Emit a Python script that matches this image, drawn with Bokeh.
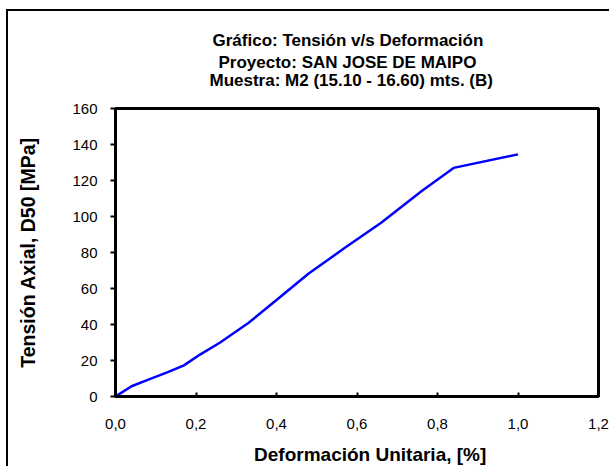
import math
from bokeh.plotting import figure
from bokeh.models import Range1d, FixedTicker, Title
from bokeh.embed import file_html
from bokeh.resources import INLINE

# Stress-strain curve (axial stress vs unit strain)
strain = [0.0, 0.04, 0.08, 0.13, 0.17, 0.21, 0.26, 0.33, 0.40, 0.48, 0.57, 0.66, 0.76, 0.84, 1.0]
stress = [0.0, 5.7, 9.2, 13.5, 17.3, 23.3, 30.0, 40.8, 53.6, 68.3, 82.6, 96.5, 114.0, 127.0, 134.5]

x_ticks = [0.0, 0.2, 0.4, 0.6, 0.8, 1.0, 1.2]
x_tick_labels = ["0,0", "0,2", "0,4", "0,6", "0,8", "1,0", "1,2"]
y_ticks = [0, 20, 40, 60, 80, 100, 120, 140, 160]

title_lines = [
    "Gráfico: Tensión  v/s Deformación",
    "Proyecto: SAN JOSE DE MAIPO",
    "Muestra: M2 (15.10 - 16.60) mts. (B)",
]
x_label = "Deformación Unitaria, [%]"
y_label = "Tensión Axial, D50 [MPa]"

FONT = "Liberation Sans"
NBSP = "\u00a0"

p = figure(
    width=603, height=457,
    x_range=Range1d(0, 1.2), y_range=Range1d(0, 160),
    output_backend="svg", toolbar_location=None,
    min_border_left=107, min_border_right=13,
    min_border_top=97, min_border_bottom=72,
)
p.title = None
p.styles = {
    "margin-left": "6px",
    "margin-top": "9px",
    "border-left": "2px solid black",
    "border-top": "2px solid black",
}

p.background_fill_color = "white"
p.border_fill_color = "white"
p.outline_line_color = "black"
p.outline_line_width = 3
p.grid.visible = False

p.line(strain, stress, line_color="#0000FF", line_width=2.5)

xa = p.xaxis[0]
xa.ticker = FixedTicker(ticks=x_ticks)
xa.major_label_overrides = dict(zip(x_ticks, x_tick_labels))
xa.major_tick_in = 4
xa.major_tick_out = 0
xa.major_label_standoff = 22
# leading padding nudges the caption a little right of the frame centre
xa.axis_label = NBSP * 5 + x_label
xa.axis_label_standoff = 12
xa.axis_label_text_font_size = "19px"

ya = p.yaxis[0]
ya.ticker = FixedTicker(ticks=y_ticks)
ya.major_tick_in = 0
ya.major_tick_out = 5
ya.major_label_standoff = 13
ya.axis_label = y_label
ya.axis_label_standoff = 30
ya.axis_label_text_font_size = "19.5px"

for ax in (xa, ya):
    ax.axis_line_color = "black"
    ax.axis_line_width = 3
    ax.major_tick_line_color = "black"
    ax.major_tick_line_width = 2
    ax.minor_tick_line_color = None
    ax.major_label_text_font = FONT
    ax.major_label_text_font_size = "15px"
    ax.major_label_text_color = "black"
    ax.axis_label_text_font = FONT
    ax.axis_label_text_font_style = "bold"
    ax.axis_label_text_color = "black"


def caption(text, offset, standoff):
    p.add_layout(Title(text=text, align="left", offset=offset, standoff=standoff,
                       text_font=FONT, text_font_size="17px",
                       text_font_style="bold", text_color="black"), "above")


# heading, stacked from the frame outward; the blank second row of the
# last line keeps the heading clear of the frame
caption(title_lines[2] + "\n" + NBSP, 94, 0)
caption(title_lines[1], 103, -7)
caption(title_lines[0], 97, 9)

open("out.html", "w").write(file_html(p, INLINE))
